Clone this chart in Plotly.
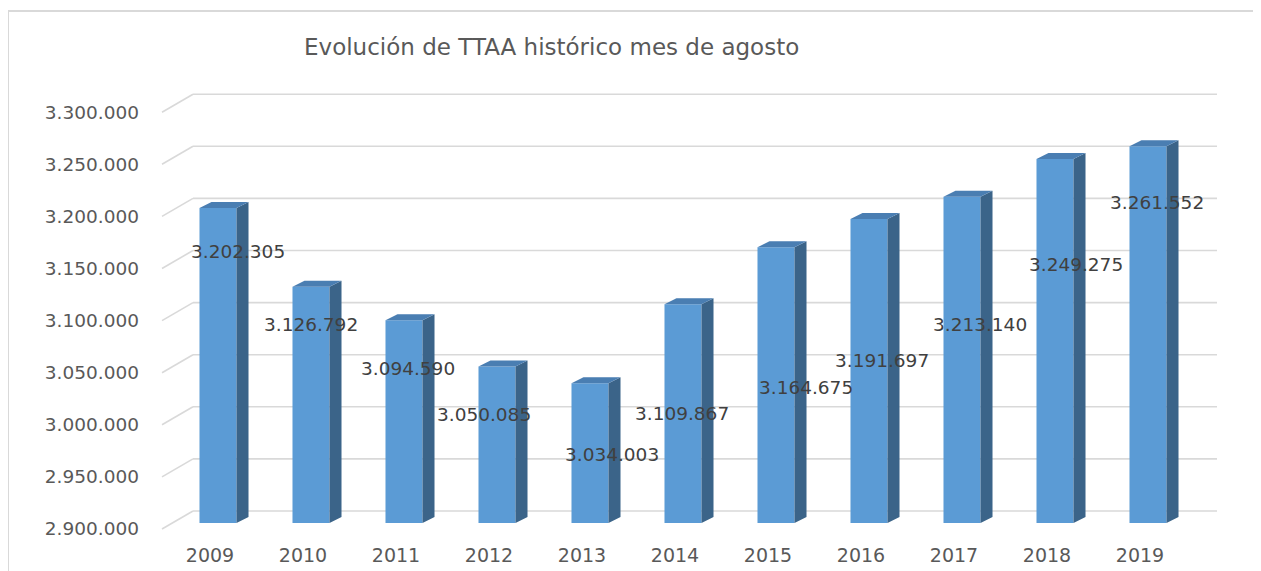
import plotly.graph_objects as go

# ---- data ----
years = ["2009", "2010", "2011", "2012", "2013", "2014", "2015", "2016", "2017", "2018", "2019"]
values = [3202305, 3126792, 3094590, 3050085, 3034003, 3109867, 3164675, 3191697, 3213140, 3249275, 3261552]
y_ticks = [2900000, 2950000, 3000000, 3050000, 3100000, 3150000, 3200000, 3250000, 3300000]
title_text = "Evolución de TTAA histórico mes de agosto"

# ---- layout geometry (style) ----
PAGE_OFF = 8                        # browser body margin
FIG_W, FIG_H = 1261 - PAGE_OFF, 571 - PAGE_OFF
BASE = 2900000
PX_PER_UNIT_Y = 52.1 / 50000.0      # pixels per data unit on y
PX_PER_CAT = 93.0                   # pixels per category on x
depth_dx_bar = 12 / PX_PER_CAT      # bar depth in x units
depth_dy_bar = 6 / PX_PER_UNIT_Y    # bar depth in y units
front_dy = -6 / PX_PER_UNIT_Y       # front plane offset
back_dy = 12 / PX_PER_UNIT_Y        # back wall offset
front_x = (162 - 218) / PX_PER_CAT
back_x0 = (193 - 218) / PX_PER_CAT
back_x1 = (1217 - 218) / PX_PER_CAT
bar_w = 0.398

PL, PR, PT, PB = 150, 1230, 80, 535   # plot area in page pixels
PW, PH = PR - PL, PB - PT

x_range = [(PL - 218) / PX_PER_CAT, (PR - 218) / PX_PER_CAT]
y_range = [BASE - (PB - 523) / PX_PER_UNIT_Y, BASE + (523 - PT) / PX_PER_UNIT_Y]
# front plane axis range: tick v shown at y(v + front_dy)
y2_range = [y_range[0] - front_dy, y_range[1] - front_dy]

# label offsets (pixels) as they appear in the original
label_dx = [20, 0, 4, -13, 22, -1, 30, 13, 18, 21, 9]
label_dy = [43, 38, 48, 48, 71, 109, 140, 141, 128, 105, 56]

FRONT = "#5B9BD5"
SIDE = "#3B6489"
TOP = "#4A7EB2"
GRID = "#D9D9D9"
TXT = "#595959"
FONT = "DejaVu Sans"

xs = list(range(len(years)))


def fmt(v):
    return f"{v:,}".replace(",", ".")


fig = go.Figure()

fig.add_trace(go.Bar(
    x=xs, y=[v - BASE for v in values], base=[BASE] * len(values),
    width=bar_w, marker=dict(color=FRONT, line=dict(width=0)),
    customdata=[fmt(v) for v in values], text=years,
    hovertemplate="%{text}: %{customdata}<extra></extra>",
    textposition="none", showlegend=False,
))

# side faces
sx, sy = [], []
for i, v in zip(xs, values):
    r = i + bar_w / 2
    sx += [r, r + depth_dx_bar, r + depth_dx_bar, r, r, None]
    sy += [BASE, BASE + depth_dy_bar, v + depth_dy_bar, v, BASE, None]
fig.add_trace(go.Scatter(x=sx, y=sy, mode="lines", fill="toself", fillcolor=SIDE,
                         line=dict(width=0), hoverinfo="skip", showlegend=False))
# top faces
tx, ty = [], []
for i, v in zip(xs, values):
    l = i - bar_w / 2
    r = i + bar_w / 2
    tx += [l, l + depth_dx_bar, r + depth_dx_bar, r, l, None]
    ty += [v, v + depth_dy_bar, v + depth_dy_bar, v, v, None]
fig.add_trace(go.Scatter(x=tx, y=ty, mode="lines", fill="toself", fillcolor=TOP,
                         line=dict(width=0), hoverinfo="skip", showlegend=False))

# invisible trace on front-plane axis so it renders
fig.add_trace(go.Scatter(x=[xs[0]], y=[values[0]], yaxis="y2", mode="markers",
                         marker=dict(opacity=0), hoverinfo="skip", showlegend=False))

# gridlines (back wall + floor diagonals)
shapes = []
for t in y_ticks:
    shapes.append(dict(type="line", xref="x", yref="y", layer="below",
                       x0=back_x0, x1=back_x1, y0=t + back_dy, y1=t + back_dy,
                       line=dict(color=GRID, width=1.6)))
    shapes.append(dict(type="line", xref="x", yref="y", layer="below",
                       x0=front_x, x1=back_x0, y0=t + front_dy, y1=t + back_dy,
                       line=dict(color=GRID, width=1.6)))
# chart border (only top and left edges are visible)
shapes.append(dict(type="rect", xref="paper", yref="paper", layer="below",
                   x0=(8 - PL) / PW, x1=1.3, y0=-0.3, y1=(PB - 11) / PH,
                   line=dict(color=GRID, width=2)))

annotations = []
for i, v in enumerate(values):
    annotations.append(dict(
        x=xs[i], y=v, xref="x", yref="y", text=fmt(v),
        showarrow=False, xshift=label_dx[i], yshift=-label_dy[i],
        xanchor="center", yanchor="middle",
        font=dict(family=FONT, size=18.5, color="#404040"),
    ))
annotations.append(dict(
    x=(551 - PL) / PW, y=(PB - 47) / PH, xref="paper", yref="paper",
    text=title_text, showarrow=False, xanchor="center", yanchor="middle",
    font=dict(family=FONT, size=23, color=TXT),
))

fig.update_layout(
    width=FIG_W, height=FIG_H, autosize=False,
    margin=dict(l=PL - PAGE_OFF, r=FIG_W - (PR - PAGE_OFF), t=PT - PAGE_OFF,
                b=FIG_H - (PB - PAGE_OFF), autoexpand=False),
    paper_bgcolor="white", plot_bgcolor="white",
    showlegend=False,
    shapes=shapes,
    annotations=annotations,
    font=dict(family=FONT, color=TXT),
    xaxis=dict(range=x_range, tickmode="array", automargin=False,
               tickvals=[i - 8 / PX_PER_CAT for i in xs], ticktext=years,
               showgrid=False, zeroline=False, showline=False, ticks="",
               tickfont=dict(size=19, color=TXT), ticklabelstandoff=7),
    yaxis=dict(range=y_range, showgrid=False, zeroline=False, showline=False,
               showticklabels=False, ticks="", automargin=False),
    yaxis2=dict(range=y2_range, overlaying="y", side="left", tickmode="array",
                tickvals=y_ticks, ticktext=[fmt(t) for t in y_ticks], automargin=False,
                showgrid=False, zeroline=False, showline=False, ticks="",
                tickfont=dict(size=18.5, color=TXT), ticklabelstandoff=10),
)

fig.write_html("out.html")
